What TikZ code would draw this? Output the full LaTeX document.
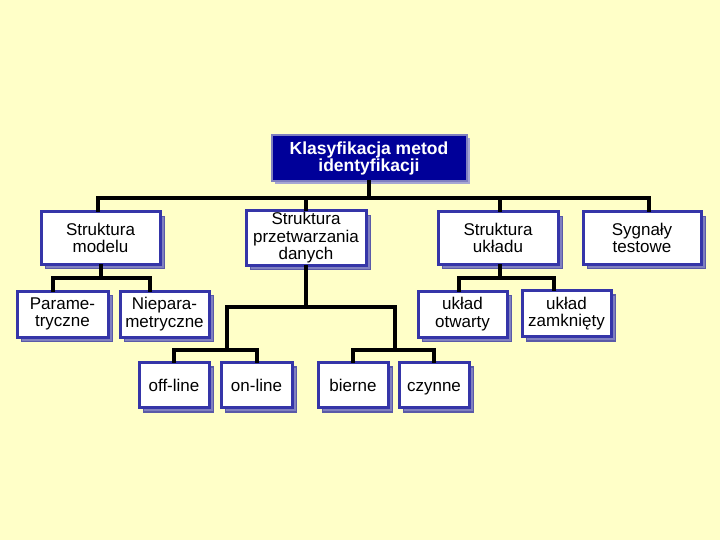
\documentclass[tikz,border=0pt]{standalone}
\usepackage{fontspec}
\setmainfont{Liberation Sans}
\usetikzlibrary{shadows}
\definecolor{bgc}{HTML}{FFFFC8}
\definecolor{bord}{HTML}{3535A8}
\definecolor{shad}{HTML}{8080C0}
\definecolor{shadb}{HTML}{5A5AA8}
\definecolor{navy}{HTML}{000099}
\tikzset{
  box/.style={draw=bord, line width=3pt, fill=white, align=center, inner sep=0pt,
    font=\fontsize{17}{17.5}\selectfont,
    copy shadow={shadow xshift=4.5pt, shadow yshift=-4.5pt, fill=shad, draw=shadb, line width=1.5pt}},
  oneline/.style={text height=14pt, text depth=2pt},
  titlebox/.style={draw=shad, line width=2pt, fill=navy, text=white, align=center, inner sep=0pt,
    font=\fontsize{17.5}{16.5}\selectfont\bfseries,
    copy shadow={shadow xshift=3pt, shadow yshift=-3pt, fill=shad!70, draw=none}},
  conn/.style={line width=4pt, line cap=rect}
}
\begin{document}
\begin{tikzpicture}[x=1pt,y=-1pt]
\useasboundingbox (0,0) rectangle (720,540);
\fill[bgc] (0,0) rectangle (720,540);
% nodes
\node[titlebox, minimum width=195pt, minimum height=46pt] (title) at (369,158.5) {Klasyfikacja metod\\identyfikacji};
\node[box, minimum width=119pt, minimum height=52pt] (sm) at (100.5,238) {Struktura\\modelu};
\node[box, minimum width=120pt, minimum height=54pt] (sp) at (306,238) {Struktura\\przetwarzania\\danych};
\node[box, minimum width=120pt, minimum height=52pt] (su) at (498,238) {Struktura\\układu};
\node[box, minimum width=118pt, minimum height=52pt] (st) at (642,238) {Sygnały\\testowe};
\node[box, minimum width=91pt, minimum height=46pt] (par) at (62.5,314) {Parame-\\tryczne};
\node[box, minimum width=89pt, minimum height=46pt] (npar) at (164.5,314) {Niepara-\\metryczne};
\node[box, minimum width=89pt, minimum height=46pt] (uo) at (462.5,314) {układ\\otwarty};
\node[box, minimum width=89pt, minimum height=46pt] (uz) at (566.5,313.5) {układ\\zamknięty};
\node[box, oneline, minimum width=70pt, minimum height=45pt] (off) at (174,385) {off-line};
\node[box, oneline, minimum width=71pt, minimum height=45pt] (on) at (256.5,385) {on-line};
\node[box, oneline, minimum width=70pt, minimum height=45pt] (bi) at (353,385) {bierne};
\node[box, oneline, minimum width=70pt, minimum height=45pt] (cz) at (434,385) {czynne};
\coordinate (bus) at (369,198);
\coordinate (j0) at (306,307);
\coordinate (j1) at (227,350);
\coordinate (j2) at (395,350);
% connectors
\draw[conn] (title.south) -- (bus);
\draw[conn] ([xshift=-2.5]sm.north) |- (bus) -| ([xshift=7]st.north);
\draw[conn] (sp.north) -- (sp.north |- bus);
\draw[conn] ([xshift=2]su.north) -- ([xshift=2]su.north |- bus);
\draw[conn] (sm.south) -- ++(0,12);
\draw[conn] ([xshift=-10]par.north) -- ++(0,-12) -| ([xshift=-15]npar.north);
\draw[conn] (sp.south) -- (j0);
\draw[conn] (j1) |- (j0) -| (j2);
\draw[conn] (off.north) |- (j1) -| (on.north);
\draw[conn] (bi.north) |- (j2) -| (cz.north);
\draw[conn] ([xshift=2]su.south) -- ++(0,12);
\draw[conn] ([xshift=-4]uo.north) -- ++(0,-12) -| ([xshift=-13]uz.north);
\end{tikzpicture}
\end{document}
